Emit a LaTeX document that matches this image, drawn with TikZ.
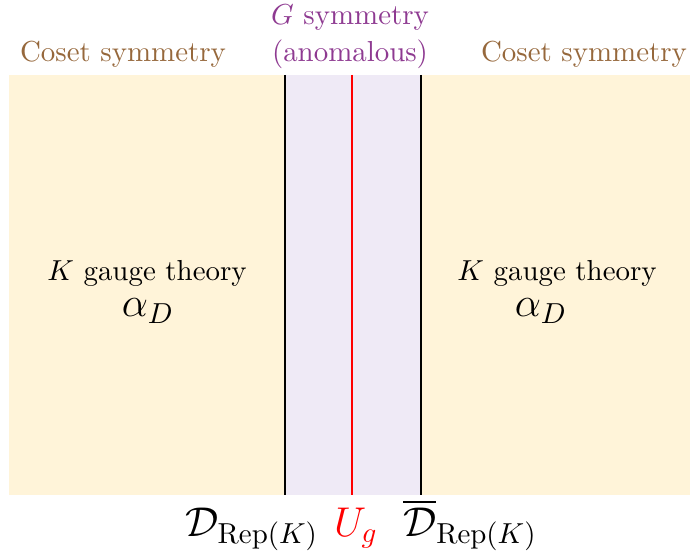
\documentclass[tikz,border=0pt]{standalone}
\usepackage{amsmath}
\usetikzlibrary{positioning,calc}

\definecolor{cosetbg}{RGB}{255,244,217}
\definecolor{bandbg}{RGB}{239,234,246}
\definecolor{cosettxt}{RGB}{150,104,60}
\definecolor{gtxt}{RGB}{142,58,145}

\begin{document}
\begin{tikzpicture}[
    x=0.346pt, y=-0.346pt,
    wall/.style={line width=0.8pt, black},
    defect/.style={line width=0.8pt, red},
    coset/.style={text=cosettxt, anchor=base, inner sep=0pt},
    gsym/.style={text=gtxt, anchor=base, inner sep=0pt},
    theory/.style={anchor=base, inner sep=0pt},
    lbl/.style={anchor=base, inner sep=0pt, font=\fontsize{14}{17}\selectfont}
]
    \useasboundingbox (0,0) rectangle (690,556);

    % regions
    \fill[cosetbg] (9,75) rectangle (690,495);
    \fill[bandbg] (285,75) rectangle (421,495);

    \coordinate (ltop) at (285,75);
    \coordinate (lbot) at (285,495);
    \coordinate (mtop) at (352,75);
    \coordinate (mbot) at (352,495);
    \coordinate (rtop) at (421,75);
    \coordinate (rbot) at (421,495);

    \draw[wall] (ltop) -- (lbot);
    \draw[defect] (mtop) -- (mbot);
    \draw[wall] (rtop) -- (rbot);

    % headers
    \node[coset] (cosetl) at (123,62) {Coset symmetry};
    \node[coset] (cosetr) at (584,62) {Coset symmetry};
    \node[gsym] (gsym) at (350,25) {$G$ symmetry};
    \node[gsym] (anom) at (350,62) {(anomalous)};

    % bulk
    \node[theory] (kl) at (147,281) {$K$ gauge theory};
    \node[lbl] (al) at (148,317) {$\alpha_D$};
    \node[theory] (kr) at (557,281) {$K$ gauge theory};
    \node[lbl] (ar) at (541,317) {$\alpha_D$};

    % defects
    \node[lbl] (dl) at (252,536) {$\mathcal{D}_{\mathrm{Rep}(K)}$};
    \node[lbl, text=red] (ug) at (356,536) {$U_g$};
    \node[lbl] (dr) at (470,536) {$\overline{\smash{\mathcal{D}}\rule{0pt}{0.7em}}_{\mathrm{Rep}(K)}$};
\end{tikzpicture}
\end{document}
